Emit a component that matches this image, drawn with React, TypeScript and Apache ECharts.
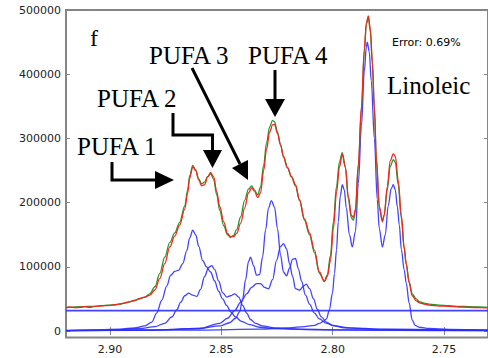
import { useEffect, useRef } from "react";
import * as echarts from "echarts";

// Chemical shift grid (ppm) shared by the measured spectrum and the fitted envelope
const shiftPpm = [
  2.9197, 2.9179, 2.9157, 2.9134, 2.9112, 2.909, 2.9067, 2.9045, 2.9022, 2.9,
  2.8978, 2.8955, 2.8933, 2.891, 2.8888, 2.8866, 2.8843, 2.8821, 2.8798, 2.8776,
  2.8754, 2.8731, 2.8709, 2.8687, 2.8664, 2.8651, 2.8642, 2.8628, 2.8615, 2.8601,
  2.8588, 2.8575, 2.8561, 2.8548, 2.8534, 2.8521, 2.8507, 2.8489, 2.8472, 2.8458,
  2.8445, 2.8431, 2.8413, 2.8395, 2.8378, 2.8364, 2.8351, 2.8337, 2.8324, 2.831,
  2.8297, 2.8283, 2.827, 2.8261, 2.8248, 2.8234, 2.8221, 2.8203, 2.8185, 2.8167,
  2.8149, 2.8127, 2.8104, 2.8082, 2.806, 2.8037, 2.8024, 2.801, 2.7997, 2.7983,
  2.797, 2.7957, 2.7943, 2.793, 2.7916, 2.7907, 2.7898, 2.7885, 2.7871, 2.7858,
  2.7849, 2.784, 2.7831, 2.7822, 2.7813, 2.7804, 2.7791, 2.7777, 2.7769, 2.7755,
  2.7742, 2.7728, 2.7719, 2.7706, 2.7692, 2.7679, 2.767, 2.7657, 2.7643, 2.7625,
  2.7612, 2.7589, 2.7567, 2.7522, 2.7478, 2.7433, 2.7388, 2.7343, 2.7303,
];

// Measured intensity (red)
const observed = [
  36000, 37500, 36500, 37000, 38000, 37000, 38500, 39000, 39500, 40000,
  41000, 42500, 44000, 46000, 48000, 51000, 53000, 56000, 64000, 82000,
  105000, 131000, 148000, 165000, 190000, 215000, 238000, 256000, 250000, 235000,
  226000, 228000, 240000, 247000, 240000, 218000, 194000, 170000, 152000, 147000,
  147000, 152000, 168000, 192000, 215000, 223000, 218000, 208000, 215000, 250000,
  283000, 310000, 321000, 322000, 308000, 290000, 272000, 255000, 241000, 228000,
  205000, 175000, 153000, 126000, 92000, 77000, 85000, 110000, 160000, 215000,
  255000, 275000, 255000, 210000, 180000, 177000, 190000, 260000, 350000, 440000,
  480000, 491000, 470000, 420000, 350000, 270000, 195000, 170000, 180000, 225000,
  265000, 276000, 272000, 235000, 180000, 130000, 105000, 75000, 55000, 47000,
  44000, 42000, 40500, 39000, 38500, 37500, 37000, 36500, 36000,
];

// Fitted envelope (green)
const fitted = [
  37000, 37000, 37500, 38000, 38000, 38500, 38500, 39500, 40000, 40500,
  41000, 42000, 43500, 45500, 47500, 50000, 53000, 58000, 69000, 90000,
  115000, 138000, 153000, 169000, 195000, 220000, 242000, 258000, 251000, 237000,
  229000, 232000, 241000, 245000, 236000, 213000, 188000, 164000, 150000, 146000,
  149000, 158000, 178000, 204000, 221000, 226000, 220000, 212000, 224000, 258000,
  293000, 318000, 328000, 326000, 310000, 290000, 271000, 254000, 240000, 226000,
  203000, 173000, 150000, 122000, 90000, 78000, 88000, 118000, 170000, 225000,
  263000, 278000, 255000, 206000, 176000, 173000, 186000, 256000, 346000, 436000,
  478000, 488000, 466000, 415000, 345000, 266000, 192000, 172000, 181000, 220000,
  256000, 267000, 263000, 228000, 176000, 128000, 104000, 77000, 58000, 50000,
  46000, 43500, 42000, 40500, 39500, 38500, 38000, 37500, 37000,
];

// Fitted component multiplets (blue), [ppm, intensity]
const pufa1Component = [
  [2.9197, 1000], [2.9045, 2000], [2.8955, 3000], [2.8888, 5000], [2.8843, 8000],
  [2.8812, 14000], [2.879, 28000], [2.8767, 48000], [2.8745, 70000], [2.8727, 87000],
  [2.8709, 93000], [2.8691, 95000], [2.8673, 105000], [2.8655, 125000], [2.8642, 145000],
  [2.8628, 157000], [2.8615, 150000], [2.8601, 132000], [2.8584, 110000], [2.8566, 100000],
  [2.8548, 92000], [2.853, 78000], [2.8512, 62000], [2.8494, 50000], [2.8476, 40000],
  [2.8458, 30000], [2.8436, 22000], [2.8409, 15000], [2.8373, 10000], [2.8328, 6000],
  [2.8239, 3500], [2.806, 2000], [2.7701, 1000], [2.7303, 700],
];

const pufa2Component = [
  [2.9197, 800], [2.9, 1500], [2.8866, 4000], [2.8798, 7000], [2.8754, 12000],
  [2.8722, 22000], [2.87, 33000], [2.8682, 45000], [2.8664, 55000], [2.8646, 59000],
  [2.8628, 56000], [2.861, 54000], [2.8593, 65000], [2.8575, 85000], [2.8557, 99000],
  [2.8543, 102000], [2.853, 96000], [2.8512, 78000], [2.8494, 60000], [2.8476, 53000],
  [2.8458, 55000], [2.844, 58000], [2.8422, 53000], [2.8404, 40000], [2.8386, 28000],
  [2.8369, 18000], [2.8347, 12000], [2.8315, 8000], [2.8261, 5000], [2.8149, 3000],
  [2.7925, 1800], [2.7612, 1200], [2.7303, 800],
];

const pufa3Component = [
  [2.9197, 600], [2.8821, 1500], [2.8597, 4000], [2.8507, 12000], [2.8472, 20000],
  [2.844, 32000], [2.8413, 45000], [2.8386, 58000], [2.8364, 68000], [2.8342, 74000],
  [2.8324, 74000], [2.8306, 68000], [2.8288, 66000], [2.827, 80000], [2.8252, 110000],
  [2.8234, 132000], [2.8221, 136000], [2.8207, 128000], [2.8194, 105000], [2.818, 85000],
  [2.8167, 66000], [2.8149, 64000], [2.8131, 70000], [2.8118, 73000], [2.8104, 66000],
  [2.8086, 50000], [2.8069, 34000], [2.8051, 22000], [2.8028, 14000], [2.8001, 9000],
  [2.7948, 5000], [2.7791, 2500], [2.7303, 1000],
];

const pufa4Component = [
  [2.9197, 600], [2.8821, 1500], [2.8597, 4000], [2.8507, 8000], [2.8463, 13000],
  [2.8436, 20000], [2.8418, 30000], [2.8404, 50000], [2.8391, 80000], [2.8378, 108000],
  [2.8369, 115000], [2.8355, 102000], [2.8342, 87000], [2.8328, 88000], [2.8315, 115000],
  [2.8301, 158000], [2.8288, 192000], [2.8275, 203000], [2.8261, 193000], [2.8248, 160000],
  [2.8234, 118000], [2.8221, 92000], [2.8207, 86000], [2.8194, 98000], [2.818, 112000],
  [2.8167, 113000], [2.8154, 97000], [2.814, 78000], [2.8122, 56000], [2.8104, 42000],
  [2.8082, 28000], [2.806, 19000], [2.8028, 12000], [2.7992, 8000], [2.7925, 5000],
  [2.7791, 3000], [2.7303, 1200],
];

const linoleicComponent = [
  [2.9197, 800], [2.8597, 1500], [2.8328, 3000], [2.8194, 5000], [2.8127, 7000],
  [2.8082, 9000], [2.806, 12000], [2.8042, 15000], [2.8028, 19000], [2.8015, 33000],
  [2.8001, 59000], [2.7992, 90000], [2.7983, 126000], [2.7975, 170000], [2.7966, 210000],
  [2.7957, 228000], [2.7948, 220000], [2.7939, 192000], [2.7925, 150000], [2.7912, 131000],
  [2.7898, 155000], [2.7885, 230000], [2.7871, 320000], [2.7858, 405000], [2.7849, 442000],
  [2.7845, 450000], [2.7836, 435000], [2.7827, 390000], [2.7813, 300000], [2.78, 205000],
  [2.7791, 160000], [2.7777, 131000], [2.7764, 150000], [2.7751, 195000], [2.7737, 222000],
  [2.7728, 228000], [2.7719, 220000], [2.771, 194000], [2.7701, 165000], [2.7692, 127000],
  [2.7679, 95000], [2.767, 75000], [2.7657, 44000], [2.7643, 17000], [2.763, 9000],
  [2.7612, 6000], [2.7567, 4000], [2.7478, 2800], [2.7303, 1800],
];

// Constant baseline offset of the fit
const baselineLevel = 32000;

const xTicks = [2.9, 2.85, 2.8, 2.75];
const yTicks = [0, 100000, 200000, 300000, 400000, 500000];
const shiftMin = 2.7303;
const shiftMax = 2.9197;

const BLUE = "rgba(45,45,255,0.9)";
const FRAME = "#858585";

export default function App() {
  const ref = useRef<HTMLDivElement>(null);

  useEffect(() => {
    if (!ref.current) return;
    const chart = echarts.init(ref.current, null, { renderer: "svg" });

    const blueLine = (name: string, data: number[][]) => ({
      name,
      type: "line",
      data,
      symbol: "none",
      smooth: 0.35,
      smoothMonotone: "x",
      lineStyle: { color: BLUE, width: 1.3 },
      z: 2,
    });

    const serif = '25px "Liberation Serif", "Times New Roman", serif';
    const label = (text: string, x: number, y: number, font = serif) => ({
      type: "text",
      x,
      y,
      style: { text, font, fill: "#000", textAlign: "left", textVerticalAlign: "middle" },
      z: 10,
    });
    const stroke = (points: number[][]) => ({
      type: "polyline",
      shape: { points },
      style: { stroke: "#000", lineWidth: 3, fill: null },
      z: 10,
    });
    const head = (points: number[][]) => ({
      type: "polygon",
      shape: { points },
      style: { fill: "#000" },
      z: 10,
    });

    const axisCommon = {
      type: "value",
      axisLine: { show: false },
      splitLine: { show: false },
    };

    chart.setOption({
      animation: false,
      grid: {
        left: 66,
        top: 10,
        width: 423,
        height: 327.5,
        show: true,
        borderColor: FRAME,
        borderWidth: 2,
        backgroundColor: "transparent",
      },
      xAxis: [
        {
          ...axisCommon,
          min: shiftMin,
          max: shiftMax,
          inverse: true,
          position: "bottom",
          axisTick: { inside: true, length: 4, customValues: xTicks, lineStyle: { color: FRAME } },
          axisLabel: {
            customValues: xTicks,
            formatter: (v: number) => v.toFixed(2),
            color: "#222",
            fontSize: 11,
            fontFamily: "DejaVu Sans",
            margin: 6,
          },
        },
        {
          ...axisCommon,
          min: shiftMin,
          max: shiftMax,
          inverse: true,
          position: "top",
          axisTick: { inside: true, length: 4, customValues: xTicks, lineStyle: { color: FRAME } },
          axisLabel: { show: false },
        },
      ],
      yAxis: [
        {
          ...axisCommon,
          min: -10000,
          max: 500000,
          position: "left",
          axisTick: { inside: true, length: 4, customValues: yTicks, lineStyle: { color: FRAME } },
          axisLabel: {
            customValues: yTicks,
            formatter: (v: number) => String(Math.round(v)),
            color: "#222",
            fontSize: 11,
            fontFamily: "DejaVu Sans",
            margin: 5,
          },
        },
        {
          ...axisCommon,
          min: -10000,
          max: 500000,
          position: "right",
          axisTick: { inside: true, length: 4, customValues: yTicks, lineStyle: { color: FRAME } },
          axisLabel: { show: false },
        },
      ],
      series: [
        {
          name: "baseline",
          type: "line",
          data: [
            [shiftMax, baselineLevel],
            [shiftMin, baselineLevel],
          ],
          symbol: "none",
          lineStyle: { color: BLUE, width: 1.8 },
          z: 2,
        },
        blueLine("PUFA 1", pufa1Component),
        blueLine("PUFA 2", pufa2Component),
        blueLine("PUFA 3", pufa3Component),
        blueLine("PUFA 4", pufa4Component),
        blueLine("Linoleic", linoleicComponent),
        {
          name: "fit",
          type: "line",
          data: shiftPpm.map((x, i) => [x, fitted[i]]),
          symbol: "none",
          smooth: 0.35,
          smoothMonotone: "x",
          lineStyle: { color: "#2a952a", width: 1.3 },
          z: 3,
        },
        {
          name: "observed",
          type: "line",
          data: shiftPpm.map((x, i) => [x, observed[i]]),
          symbol: "none",
          smooth: 0.35,
          smoothMonotone: "x",
          lineStyle: { color: "#f0281e", width: 1.3 },
          z: 4,
        },
      ],
      graphic: [
        label("f", 90, 38, '24px "Liberation Serif", "Times New Roman", serif'),
        label("PUFA 1", 77, 146),
        label("PUFA 2", 97, 98),
        label("PUFA 3", 149, 55),
        label("PUFA 4", 248, 55),
        label("Linoleic", 387, 85),
        label("Error: 0.69%", 392, 42, '11px "DejaVu Sans", sans-serif'),
        // PUFA 1 arrow
        stroke([[112, 162], [112, 180], [157, 180]]),
        head([[155, 171], [174, 180], [155, 189]]),
        // PUFA 2 arrow
        stroke([[173, 113], [173, 135], [212.5, 135], [212.5, 152]]),
        head([[203, 150], [222, 150], [212.5, 168]]),
        // PUFA 3 arrow
        stroke([[192, 68], [240, 164]]),
        head([[232, 168], [248, 160], [248, 180]]),
        // PUFA 4 arrow
        stroke([[275, 70], [275, 101]]),
        head([[265, 99], [285, 99], [275, 117]]),
      ],
    });

    return () => chart.dispose();
  }, []);

  return (
    <div
      ref={ref}
      style={{ position: "absolute", left: 0, top: 0, width: 488, height: 358 }}
    />
  );
}
